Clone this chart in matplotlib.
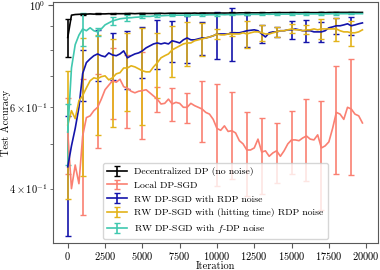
import numpy as np
from matplotlib import pyplot as plt
from matplotlib.ticker import FixedLocator, FixedFormatter

# iterations (one point every 250 iterations), error bars every 1000
iterations = np.arange(0, 20000, 250)

acc_decentralized = [0.85, 0.950, 0.953, 0.954, 0.955, 0.955, 0.956, 0.955, 0.956, 0.956,
                     0.956, 0.957, 0.956, 0.957, 0.957, 0.957, 0.957, 0.958, 0.957, 0.958,
                     0.958, 0.958, 0.958, 0.958, 0.958, 0.959, 0.958, 0.959, 0.959, 0.959,
                     0.959, 0.959, 0.959, 0.959, 0.960, 0.959, 0.960, 0.960, 0.960, 0.960,
                     0.960, 0.960, 0.960, 0.960, 0.961, 0.960, 0.961, 0.961, 0.961, 0.961,
                     0.961, 0.961, 0.961, 0.961, 0.961, 0.962, 0.961, 0.962, 0.962, 0.962,
                     0.962, 0.962, 0.962, 0.962, 0.962, 0.962, 0.962, 0.962, 0.963, 0.962,
                     0.963, 0.963, 0.963, 0.963, 0.963, 0.963, 0.963, 0.963, 0.963, 0.963]

acc_local = [0.53, 0.40, 0.45, 0.41, 0.52, 0.57, 0.575, 0.59, 0.60, 0.625,
             0.655, 0.67, 0.685, 0.68, 0.69, 0.665, 0.66, 0.65, 0.645, 0.65,
             0.652, 0.655, 0.645, 0.635, 0.625, 0.61, 0.612, 0.625, 0.61, 0.615,
             0.612, 0.60, 0.60, 0.612, 0.605, 0.60, 0.595, 0.585, 0.58, 0.565,
             0.54, 0.535, 0.547, 0.532, 0.534, 0.528, 0.508, 0.50, 0.485, 0.485,
             0.49, 0.512, 0.48, 0.483, 0.47, 0.478, 0.483, 0.47, 0.483, 0.50,
             0.51, 0.51, 0.508, 0.515, 0.52, 0.512, 0.51, 0.523, 0.49, 0.495,
             0.505, 0.54, 0.585, 0.58, 0.565, 0.60, 0.595, 0.58, 0.575, 0.555]

acc_rw_rdp = [0.446, 0.495, 0.54, 0.60, 0.71, 0.75, 0.764, 0.776, 0.783, 0.776,
              0.772, 0.787, 0.779, 0.776, 0.783, 0.795, 0.768, 0.776, 0.783, 0.787,
              0.795, 0.807, 0.815, 0.823, 0.827, 0.823, 0.827, 0.823, 0.836, 0.832,
              0.827, 0.840, 0.848, 0.840, 0.840, 0.844, 0.848, 0.848, 0.852, 0.857,
              0.865, 0.865, 0.865, 0.865, 0.870, 0.870, 0.870, 0.874, 0.879, 0.881,
              0.883, 0.879, 0.865, 0.852, 0.870, 0.874, 0.874, 0.879, 0.879, 0.883,
              0.883, 0.887, 0.883, 0.879, 0.879, 0.879, 0.874, 0.874, 0.874, 0.879,
              0.892, 0.896, 0.901, 0.901, 0.905, 0.910, 0.901, 0.905, 0.910, 0.914]

acc_rw_hitting = [0.55, 0.59, 0.567, 0.62, 0.636, 0.661, 0.685, 0.695, 0.692, 0.699,
                  0.702, 0.688, 0.695, 0.709, 0.713, 0.73, 0.73, 0.738, 0.734, 0.727,
                  0.72, 0.716, 0.716, 0.734, 0.749, 0.768, 0.776, 0.783, 0.799, 0.807,
                  0.815, 0.823, 0.827, 0.827, 0.836, 0.840, 0.844, 0.848, 0.852, 0.857,
                  0.865, 0.861, 0.861, 0.865, 0.865, 0.865, 0.865, 0.870, 0.865, 0.870,
                  0.874, 0.874, 0.870, 0.865, 0.865, 0.870, 0.874, 0.879, 0.879, 0.883,
                  0.887, 0.883, 0.883, 0.879, 0.883, 0.883, 0.887, 0.883, 0.887, 0.887,
                  0.887, 0.887, 0.887, 0.879, 0.874, 0.874, 0.870, 0.870, 0.874, 0.883]

acc_rw_fdp = [0.53, 0.73, 0.82, 0.86, 0.887, 0.879, 0.892, 0.879, 0.874, 0.887,
              0.905, 0.914, 0.923, 0.928, 0.933, 0.935, 0.937, 0.938, 0.940, 0.941,
              0.943, 0.944, 0.944, 0.946, 0.948, 0.947, 0.948, 0.949, 0.949, 0.950,
              0.950, 0.950, 0.951, 0.950, 0.951, 0.951, 0.952, 0.951, 0.952, 0.952,
              0.952, 0.953, 0.952, 0.953, 0.953, 0.953, 0.953, 0.954, 0.953, 0.954,
              0.954, 0.954, 0.954, 0.955, 0.954, 0.955, 0.955, 0.955, 0.955, 0.955,
              0.955, 0.956, 0.955, 0.956, 0.956, 0.956, 0.956, 0.956, 0.956, 0.956,
              0.956, 0.957, 0.956, 0.957, 0.957, 0.957, 0.957, 0.957, 0.957, 0.957]

# std at iterations 0, 1000, ..., 19000
std_decentralized = [0.08, 0.002, 0.002, 0.002, 0.002, 0.002, 0.002, 0.002, 0.002, 0.002,
                     0.002, 0.002, 0.002, 0.002, 0.002, 0.002, 0.002, 0.002, 0.002, 0.002]
std_local = [0.10, 0.17, 0.11, 0.12, 0.12, 0.14, 0.04, 0.05, 0.046, 0.09,
             0.135, 0.115, 0.10, 0.09, 0.072, 0.08, 0.105, 0.13, 0.154, 0.167]
std_rw_rdp = [0.13, 0.09, 0.10, 0.09, 0.11, 0.10, 0.10, 0.085, 0.10, 0.07,
              0.10, 0.115, 0.07, 0.038, 0.02, 0.04, 0.05, 0.045, 0.035, 0.04]
std_rw_hitting = [0.17, 0.21, 0.17, 0.15, 0.14, 0.17, 0.12, 0.10, 0.09, 0.07,
                  0.02, 0.01, 0.06, 0.035, 0.02, 0.02, 0.02, 0.045, 0.05, 0.055]
std_rw_fdp = [0.08, 0.073, 0.016, 0.018, 0.012, 0.008, 0.006, 0.005, 0.005, 0.004,
              0.004, 0.004, 0.004, 0.003, 0.003, 0.003, 0.003, 0.003, 0.003, 0.003]

labels = ['Decentralized DP (no noise)', 'Local DP-SGD', 'RW DP-SGD with RDP noise',
          'RW DP-SGD with (hitting time) RDP noise', 'RW DP-SGD with $f$-DP noise']
colors = ['#000000', '#FA8072', '#1414AA', '#E3B31A', '#40C8AF']

plt.rcParams['font.family'] = 'cmr10'
plt.rcParams['mathtext.fontset'] = 'cm'
plt.rcParams['axes.formatter.use_mathtext'] = True
plt.rcParams['font.size'] = 7.5

fig, ax = plt.subplots(figsize=(3.8, 2.7), dpi=100)
fig.subplots_adjust(left=0.139, right=0.995, bottom=0.10, top=0.993)

series = [acc_decentralized, acc_local, acc_rw_rdp, acc_rw_hitting, acc_rw_fdp]
stds = [std_decentralized, std_local, std_rw_rdp, std_rw_hitting, std_rw_fdp]

for acc, std, label, color in zip(series, stds, labels, colors):
    yerr = np.zeros(len(iterations))
    yerr[::4] = std
    ax.errorbar(iterations, acc, yerr=yerr, errorevery=4, color=color, label=label,
                lw=1.2, elinewidth=1.2, capsize=2.5, capthick=1.0)

ax.set_yscale('log')
ax.set_ylim(0.305, 1.015)
ax.set_xlim(-1000, 20800)

ax.yaxis.set_major_locator(FixedLocator([1.0]))
ax.yaxis.set_major_formatter(FixedFormatter([r'$10^{0}$']))
ax.yaxis.set_minor_locator(FixedLocator([0.4, 0.5, 0.6, 0.7, 0.8, 0.9]))
ax.yaxis.set_minor_formatter(FixedFormatter([r'$4\times10^{-1}$', '', r'$6\times10^{-1}$', '', '', '']))
ax.set_xticks([0, 2500, 5000, 7500, 10000, 12500, 15000, 17500, 20000])

for sp in ax.spines.values():
    sp.set_color('0.35')
ax.tick_params(which='both', colors='0.35', labelcolor='black', labelsize=7.5, pad=2)
ax.tick_params(which='major', length=3.5)
ax.tick_params(which='minor', length=2)
ax.tick_params(axis='x', pad=1.5)

ax.set_xlabel('Iteration', fontsize=7.5)
ax.set_ylabel('Test Accuracy', fontsize=7.5)
ax.xaxis.set_label_coords(0.5, -0.075)
ax.yaxis.set_label_coords(-0.13, 0.5)

ax.legend(loc='lower center', fontsize=7, framealpha=0.8, edgecolor='0.8',
          borderaxespad=0.4)

plt.savefig('out.png', dpi=100)
plt.close()
